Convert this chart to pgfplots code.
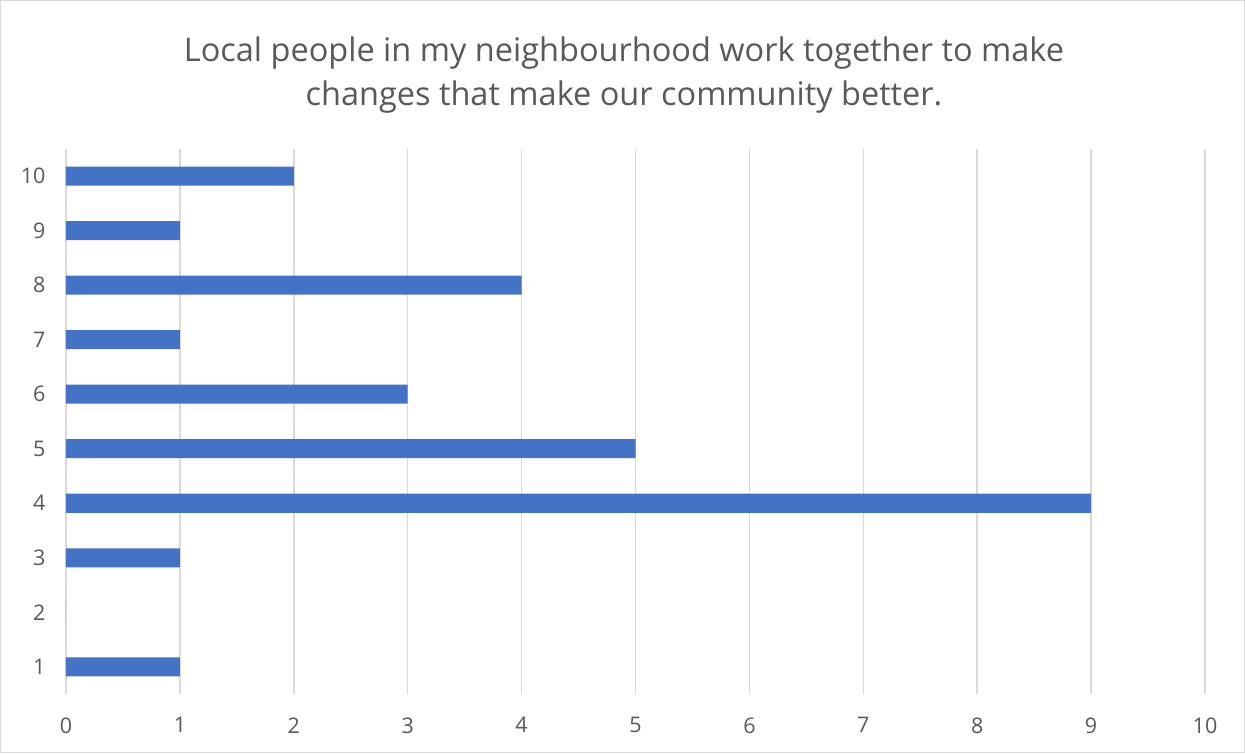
\documentclass[border=0pt]{standalone}
\usepackage{pgfplots}
\pgfplotsset{compat=1.18}
\usepackage{fontspec}
\setmainfont{Open Sans}
\definecolor{barblue}{HTML}{4472C4}
\definecolor{txtgray}{HTML}{595959}
\definecolor{gridgray}{HTML}{D9D9D9}
\begin{document}
\begin{tikzpicture}[x=1pt,y=1pt]
\draw[gridgray,line width=1.2pt] (0.6,0.6) rectangle (1244.4,752.4);
\node[anchor=base,text=txtgray,font=\fontsize{32.5}{38}\selectfont] at (624,691) {Local people in my neighbourhood work together to make};
\node[anchor=base,text=txtgray,font=\fontsize{32.5}{38}\selectfont] at (624,647) {changes that make our community better.};
\begin{axis}[
  at={(66pt,59pt)}, anchor=south west,
  scale only axis, width=1139pt, height=545pt,
  xbar, bar width=19pt,
  xmin=0, xmax=10, ymin=0.5, ymax=10.5,
  xtick={0,1,...,10}, ytick={1,2,...,10},
  axis line style={draw=none},
  major tick length=0pt,
  xmajorgrids, grid style={gridgray,line width=1.5pt},
  ymajorgrids=false,
  tick label style={text=txtgray,font=\fontsize{21.5}{24}\selectfont},
  /pgf/number format/assume math mode=true,
  xticklabel style={yshift=-20pt},
  yticklabel style={xshift=-17pt},
]
\addplot[fill=barblue,draw=none] coordinates {
(1,1) (0,2) (1,3) (9,4) (5,5) (3,6) (1,7) (4,8) (1,9) (2,10)
};
\end{axis}
\end{tikzpicture}
\end{document}
